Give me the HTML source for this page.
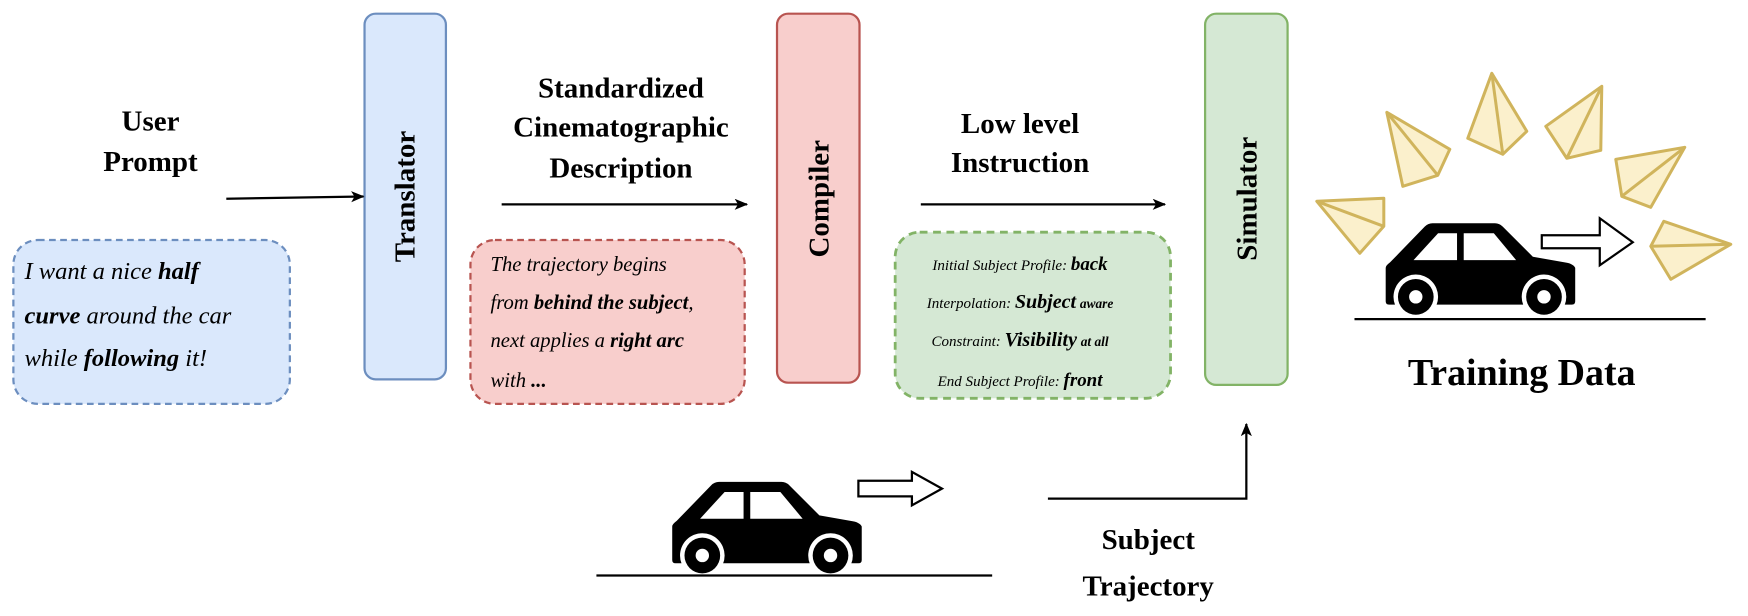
<!DOCTYPE html>
<html><head><meta charset="utf-8"><style>
html,body{margin:0;padding:0;background:#fff;}
svg{display:block;}
text,tspan{font-family:"Liberation Serif","DejaVu Serif",serif;fill:#000;}
.h{font-weight:bold;font-size:26px;text-anchor:middle;}
.v{font-weight:bold;font-size:26px;text-anchor:middle;}
.bi{font-style:italic;font-size:22px;}
.ri{font-style:italic;font-size:18.5px;}
.gi{font-style:italic;font-size:13.5px;text-anchor:middle;}
</style></head><body>
<svg width="1748" height="616" viewBox="0 0 1568 552" xmlns="http://www.w3.org/2000/svg">
<defs>
<marker id="ah" markerWidth="12" markerHeight="10" refX="11" refY="5" orient="auto" markerUnits="userSpaceOnUse">
<path d="M0,0 L12,5 L0,10 L3,5 Z" fill="#000"/></marker>
<g id="car">
<path d="M0,40 L0,70 Q0,73 3,73 L167,73 Q170,73 170,70 L170,40 Q168,36 160,35 L132,30 L105,3 Q102,0 98,0 L42,0 Q38,0 35,3 L4,35 Q0,38 0,40 Z" fill="#000"/>
<path d="M25,33 L47,9 L64,9 L64,33 Z" fill="#fff"/>
<path d="M70,9 L97,9 L117,33 L70,33 Z" fill="#fff"/>
<circle cx="27" cy="66" r="20" fill="#fff"/><circle cx="27" cy="66" r="16" fill="#000"/><circle cx="27" cy="66" r="6" fill="#fff"/>
<circle cx="142" cy="66" r="20" fill="#fff"/><circle cx="142" cy="66" r="16" fill="#000"/><circle cx="142" cy="66" r="6" fill="#fff"/>
</g>
</defs>

<rect x="327" y="12" width="73" height="328" rx="10" fill="#dae8fc" stroke="#6c8ebf" stroke-width="2"/>
<rect x="697" y="12" width="74" height="331" rx="10" fill="#f8cecc" stroke="#b85450" stroke-width="2"/>
<rect x="1081" y="12" width="74" height="333" rx="10" fill="#d5e8d4" stroke="#82b366" stroke-width="2"/>
<text class="v" transform="translate(372,176) rotate(-90)">Translator</text>
<text class="v" transform="translate(743,178) rotate(-90)">Compiler</text>
<text class="v" transform="translate(1127,178) rotate(-90)">Simulator</text>

<rect x="12" y="215" width="248" height="147" rx="22" fill="#dae8fc" stroke="#6c8ebf" stroke-width="2" stroke-dasharray="6,4"/>
<rect x="422" y="215" width="246" height="147" rx="22" fill="#f8cecc" stroke="#b85450" stroke-width="2" stroke-dasharray="6,4"/>
<rect x="803" y="208" width="247" height="149" rx="22" fill="#d5e8d4" stroke="#82b366" stroke-width="2.5" stroke-dasharray="7,5"/>

<text class="bi" x="22" y="250">I want a nice <tspan font-weight="bold">half</tspan></text>
<text class="bi" x="22" y="290"><tspan font-weight="bold">curve</tspan> around the  car</text>
<text class="bi" x="22" y="328">while <tspan font-weight="bold">following</tspan> it!</text>

<text class="ri" x="440" y="243">The trajectory begins</text>
<text class="ri" x="440" y="277">from <tspan font-weight="bold">behind the subject</tspan>,</text>
<text class="ri" x="440" y="311">next applies a <tspan font-weight="bold">right arc</tspan></text>
<text class="ri" x="440" y="347">with <tspan font-weight="bold">...</tspan></text>

<text class="gi" x="915" y="242">Initial Subject Profile: <tspan font-weight="bold" font-size="17">back</tspan></text>
<text class="gi" x="915" y="276">Interpolation: <tspan font-weight="bold" font-size="18">Subject</tspan> <tspan font-weight="bold" font-size="12">aware</tspan></text>
<text class="gi" x="915" y="310">Constraint: <tspan font-weight="bold" font-size="18">Visibility</tspan> <tspan font-weight="bold" font-size="12">at all</tspan></text>
<text class="gi" x="915" y="346">End Subject Profile: <tspan font-weight="bold" font-size="17">front</tspan></text>

<text class="h" x="135" y="117">User</text>
<text class="h" x="135" y="153">Prompt</text>
<text class="h" x="557" y="87">Standardized</text>
<text class="h" x="557" y="122">Cinematographic</text>
<text class="h" x="557" y="159">Description</text>
<text class="h" x="915" y="119">Low level</text>
<text class="h" x="915" y="154">Instruction</text>
<text class="h" x="1030" y="492">Subject</text>
<text class="h" x="1030" y="534">Trajectory</text>
<text class="h" x="1365" y="345" style="font-size:34px">Training Data</text>

<line x1="203" y1="178" x2="326" y2="176" stroke="#000" stroke-width="2" marker-end="url(#ah)"/>
<line x1="450" y1="183" x2="670" y2="183" stroke="#000" stroke-width="2" marker-end="url(#ah)"/>
<line x1="826" y1="183" x2="1045" y2="183" stroke="#000" stroke-width="2" marker-end="url(#ah)"/>
<polyline points="940,447 1118,447 1118,380" fill="none" stroke="#000" stroke-width="2" marker-end="url(#ah)"/>

<use href="#car" transform="translate(603,432)"/>
<line x1="535" y1="516" x2="890" y2="516" stroke="#000" stroke-width="2"/>
<polygon points="770,431 818,431 818,423 845,438 818,453 818,445 770,445" fill="#fff" stroke="#000" stroke-width="2"/>

<use href="#car" transform="translate(1243,200)"/>
<line x1="1215" y1="286" x2="1530" y2="286" stroke="#000" stroke-width="2"/>

<g transform="scale(0.8969)">
<polygon points="1542,235 1600,235 1600,218 1633,242 1600,265 1600,248 1542,248" fill="#fff" stroke="#000" stroke-width="2.2"/>
<g fill="#fbf0cc" stroke="#d0b45c" stroke-width="3" stroke-linejoin="round">
<polygon points="1317,201 1384,198 1384,226 1360,253"/><line x1="1317" y1="201" x2="1384" y2="226"/>
<polygon points="1387,112 1450,149 1438,175 1403,186"/><line x1="1387" y1="112" x2="1438" y2="175"/>
<polygon points="1492,73 1527,131 1503,154 1468,138"/><line x1="1492" y1="73" x2="1503" y2="154"/>
<polygon points="1602,86 1546,126 1567,158 1601,150"/><line x1="1602" y1="86" x2="1567" y2="158"/>
<polygon points="1685,147 1616,159 1622,196 1651,207"/><line x1="1685" y1="147" x2="1622" y2="196"/>
<polygon points="1731,244 1664,221 1651,246 1671,279"/><line x1="1731" y1="244" x2="1651" y2="246"/>
</g>
</g>
</svg>
</body></html>
